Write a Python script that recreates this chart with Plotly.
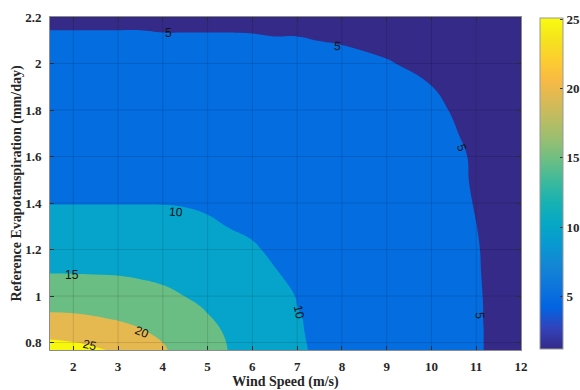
import plotly.graph_objects as go

# ---- data ----
wind_speed = [1.48, 2, 2.5, 3, 3.5, 4, 4.5, 5, 5.5, 6, 6.5, 7, 7.5, 8, 9, 10, 10.5, 11, 11.5, 12]
ref_et = [0.768, 0.8, 0.85, 0.9, 0.95, 1.0, 1.1, 1.2, 1.3, 1.4, 1.5, 1.6, 1.7, 1.8, 1.9, 2.0, 2.1, 2.2]
z_values = [
    [27.0, 26.4, 25.5, 24.4, 21.8, 20.4, 18.6, 16.6, 14.8, 13.4, 12.0, 10.28, 9.7, 9.0, 7.8, 6.5, 5.9, 5.2, 4.6, 4.0],
    [25.6, 25.1, 24.3, 23.0, 21.3, 20.0, 18.4, 16.5, 14.7, 13.4, 12.0, 10.29, 9.6, 9.0, 7.8, 6.5, 5.9, 5.2, 4.6, 4.0],
    [23.3, 23.0, 22.4, 21.5, 20.3, 19.1, 17.6, 16.0, 14.4, 13.1, 11.8, 10.19, 9.6, 9.0, 7.7, 6.5, 5.8, 5.2, 4.6, 3.9],
    [21.1, 20.9, 20.4, 19.8, 19.1, 18.1, 16.8, 15.3, 14.1, 12.9, 11.6, 10.16, 9.5, 8.9, 7.7, 6.5, 5.8, 5.18, 4.6, 3.9],
    [19.3, 19.2, 18.9, 18.5, 17.9, 17.0, 15.9, 14.7, 13.7, 12.5, 11.3, 10.02, 9.4, 8.9, 7.7, 6.4, 5.8, 5.18, 4.6, 3.9],
    [17.8, 17.7, 17.5, 17.1, 16.6, 15.8, 14.95, 14.1, 13.2, 12.1, 10.9, 9.9, 9.3, 8.8, 7.6, 6.4, 5.8, 5.16, 4.6, 3.9],
    [14.9, 14.9, 14.8, 14.7, 14.4, 14.1, 13.6, 13.0, 12.2, 11.3, 10.1, 9.6, 9.1, 8.6, 7.5, 6.3, 5.7, 5.14, 4.5, 3.9],
    [13.3, 13.2, 13.2, 13.1, 12.9, 12.7, 12.3, 11.7, 11.1, 10.2, 9.7, 9.3, 8.8, 8.4, 7.3, 6.2, 5.6, 5.1, 4.5, 3.9],
    [11.6, 11.6, 11.5, 11.5, 11.4, 11.2, 10.9, 10.4, 9.9, 9.7, 9.4, 9.0, 8.6, 8.1, 7.2, 6.1, 5.6, 5.02, 4.4, 3.9],
    [9.9, 9.9, 9.9, 9.9, 9.9, 9.9, 9.8, 9.6, 9.4, 9.2, 8.9, 8.7, 8.3, 7.9, 7.0, 6.0, 5.5, 4.9, 4.4, 3.8],
    [9.3, 9.3, 9.3, 9.3, 9.3, 9.2, 9.1, 9.0, 8.8, 8.6, 8.4, 8.2, 8.0, 7.7, 6.8, 5.9, 5.4, 4.8, 4.3, 3.8],
    [8.6, 8.6, 8.6, 8.6, 8.6, 8.5, 8.5, 8.4, 8.2, 8.1, 7.9, 7.7, 7.5, 7.3, 6.6, 5.7, 5.3, 4.8, 4.2, 3.7],
    [8.0, 8.0, 7.9, 7.9, 7.9, 7.9, 7.8, 7.8, 7.7, 7.5, 7.4, 7.2, 7.1, 6.9, 6.3, 5.5, 5.1, 4.6, 4.1, 3.7],
    [7.3, 7.3, 7.3, 7.3, 7.3, 7.2, 7.2, 7.1, 7.0, 7.0, 6.8, 6.7, 6.6, 6.4, 5.9, 5.3, 4.9, 4.4, 4.0, 3.5],
    [6.6, 6.6, 6.6, 6.6, 6.6, 6.6, 6.5, 6.5, 6.4, 6.4, 6.3, 6.2, 6.1, 5.9, 5.5, 5.02, 4.6, 4.2, 3.8, 3.3],
    [5.9, 5.9, 5.9, 5.9, 5.9, 5.9, 5.9, 5.9, 5.8, 5.8, 5.7, 5.6, 5.5, 5.4, 5.1, 4.6, 4.3, 3.9, 3.5, 3.1],
    [5.3, 5.3, 5.3, 5.3, 5.3, 5.2, 5.2, 5.2, 5.2, 5.2, 5.1, 5.1, 4.98, 4.9, 4.6, 4.1, 3.9, 3.6, 3.2, 2.9],
    [4.6, 4.6, 4.6, 4.6, 4.6, 4.6, 4.6, 4.6, 4.6, 4.5, 4.5, 4.5, 4.4, 4.4, 4.1, 3.7, 3.5, 3.2, 2.9, 2.5],
]
contour_start, contour_end, contour_step = 5, 25, 5
x_ticks = [2, 3, 4, 5, 6, 7, 8, 9, 10, 11, 12]
y_ticks = [0.8, 1.0, 1.2, 1.4, 1.6, 1.8, 2.0, 2.2]
y_tick_text = ['0.8', '1', '1.2', '1.4', '1.6', '1.8', '2', '2.2']
cbar_min, cbar_max = 1.2, 25.1
cbar_ticks = [5, 10, 15, 20, 25]
label_text = ['5', '5', '5', '5', '10', '10', '15', '20', '25']
label_x = [4.12, 7.91, 10.66, 11.08, 4.29, 7.04, 1.98, 3.53, 2.37]
label_y = [2.131, 2.076, 1.639, 0.914, 1.361, 0.931, 1.091, 0.845, 0.789]
label_angle = [0, 5, 72, 85, 4, 78, 0, 22, 12]

# ---- styling ----
SERIF = 'Liberation Serif, Times New Roman, serif'
SANS = 'Liberation Sans, Arial, sans-serif'
TXT = '#262626'
parula = ['#352a87', '#3243ba', '#0363e1', '#0d75dc', '#1485d4', '#0998d1', '#06a7c6', '#15b1b4',
          '#38b99e', '#65be86', '#92bf73', '#b7bd64', '#d9ba56', '#f8ba44', '#fcce2e', '#f5e41d', '#f9fb0e']
parula_scale = [[i / (len(parula) - 1), c] for i, c in enumerate(parula)]
band_colors = ['#352a87', '#046de0', '#06a4ca', '#6abe84', '#e6b950', '#f8f80f']
bounds = [0, 0.1, 0.3, 0.5, 0.7, 0.9, 1.0]
band_scale = []
for i, c in enumerate(band_colors):
    band_scale.append([bounds[i], c])
    band_scale.append([bounds[i + 1], c])

fig = go.Figure()
fig.add_trace(go.Contour(
    x=wind_speed, y=ref_et, z=z_values, autocontour=False,
    contours=dict(start=contour_start, end=contour_end, size=contour_step,
                  coloring='fill', showlines=False),
    colorscale=band_scale, showscale=False,
    line=dict(width=0, smoothing=1.3), hoverinfo='skip'))

cbar = dict(thickness=23, thicknessmode='pixels', len=331, lenmode='pixels',
            x=1.0403, xanchor='left', xpad=0, y=0.997, yanchor='top', ypad=0,
            outlinewidth=1, outlinecolor='#999999',
            tickvals=cbar_ticks, ticks='inside', ticklen=3, tickcolor='#333333',
            tickfont=dict(family=SERIF, size=13, color=TXT, weight='bold'))
fig.add_trace(go.Scatter(
    x=[None], y=[None], mode='markers', showlegend=False, hoverinfo='skip',
    marker=dict(color=[cbar_min, cbar_max], cmin=cbar_min, cmax=cbar_max,
                colorscale=parula_scale, showscale=True, colorbar=cbar)))

shapes = []
for xv in x_ticks:
    shapes.append(dict(type='line', xref='x', yref='paper', x0=xv, x1=xv, y0=0, y1=1,
                       line=dict(color='rgba(0,0,0,0.13)', width=1), layer='above'))
for yv in y_ticks:
    shapes.append(dict(type='line', xref='paper', yref='y', x0=0, x1=1, y0=yv, y1=yv,
                       line=dict(color='rgba(0,0,0,0.13)', width=1), layer='above'))

annotations = []
for t, lx, ly, la in zip(label_text, label_x, label_y, label_angle):
    annotations.append(dict(x=lx, y=ly, xref='x', yref='y', text=t, textangle=la, showarrow=False,
                            xanchor='center', yanchor='middle',
                            font=dict(family=SANS, size=12, color='#111111')))

axis_common = dict(ticks='inside', ticklen=4, tickwidth=1, tickcolor='#333333',
                   showline=True, linecolor='#8c8c8c', linewidth=1, mirror='ticks',
                   showgrid=False, zeroline=False, layer='above traces', automargin=False,
                   tickfont=dict(family=SERIF, size=13, color=TXT, weight='bold'))

fig.update_layout(
    width=580, height=390, margin=dict(l=50, r=59, t=17, b=40, autoexpand=False),
    paper_bgcolor='white', plot_bgcolor='white',
    shapes=shapes, annotations=annotations,
    xaxis=dict(range=[1.48, 12], tickvals=x_ticks, ticklabelstandoff=4,
               title=dict(text='Wind Speed (m/s)', standoff=7,
                          font=dict(family=SERIF, size=14, color=TXT, weight='bold')),
               **axis_common),
    yaxis=dict(range=[0.768, 2.2], tickvals=y_ticks, ticktext=y_tick_text, ticklabelstandoff=5,
               title=dict(text='Reference Evapotanspiration (mm/day)', standoff=0,
                          font=dict(family=SERIF, size=14, color=TXT, weight='bold')),
               **axis_common),
)

fig.write_html("out.html", config={'displayModeBar': False},
               post_script="document.body.style.margin='0px';document.body.style.overflow='hidden';")
